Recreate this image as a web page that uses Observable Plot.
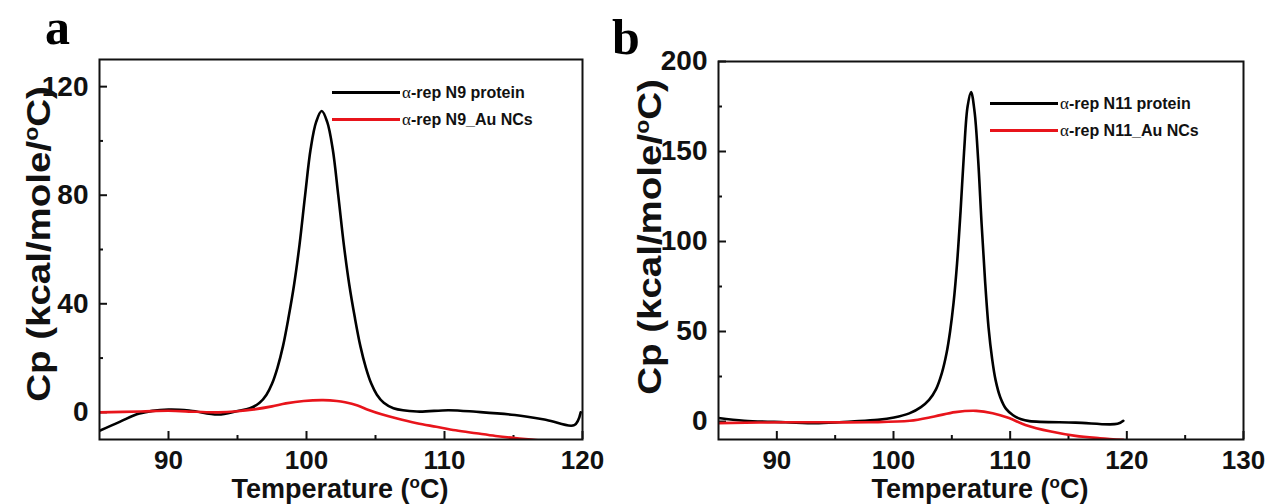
<!DOCTYPE html>
<html><head><meta charset="utf-8">
<script src="https://cdn.jsdelivr.net/npm/d3@7"></script>
<script src="https://cdn.jsdelivr.net/npm/@observablehq/plot@0.6"></script>
<style>
body{margin:0;background:#fff;}
#wrap{position:relative;width:1268px;height:504px;overflow:hidden;background:#fff;}
.panel{position:absolute;top:0;}
.letter{position:absolute;font-family:"Liberation Serif","Times New Roman",serif;font-weight:bold;font-size:50px;line-height:1.1;}
.legend{position:absolute;font-family:"Liberation Sans",Arial,sans-serif;font-weight:bold;font-size:16px;color:#111;}
.legend .row{position:relative;height:27px;display:flex;align-items:center;}
.legend .sw{width:68px;height:3px;margin-right:2px;}
.legend .al{font-family:"Liberation Serif","Times New Roman",serif;font-weight:normal;font-size:17px;}
</style></head><body><div id="wrap"></div>
<script>
// ---- Panel a data (Temperature °C, Cp kcal/mole/°C) ----
const tempA_protein = [85, 86.5, 87.9, 90, 91.6, 93.6, 95, 95.9, 96.6, 97.1, 97.5, 97.9, 98.3, 98.7, 99.1, 99.5, 99.9, 100.3, 100.7, 101.1, 101.5, 101.9, 102.3, 102.7, 103.1, 103.5, 103.9, 104.3, 104.7, 105.1, 105.6, 106.3, 108, 110.3, 112.3, 115.1, 117.4, 119.4, 119.87];
const cpA_protein   = [-6.8, -3.4, -0.4, 1.0, 0.6, -0.8, 0.5, 1.5, 3.5, 6.5, 10.5, 16.5, 24.5, 35, 47, 62, 80, 97, 107, 111, 107, 97, 80, 62, 47, 35, 24.5, 16.5, 10.5, 6.5, 3.5, 1.5, 0.3, 0.8, 0.2, -1, -2.8, -4.7, 0];
const tempA_au = [85, 88, 90, 92, 93.6, 95, 96.2, 97.5, 98.5, 99.8, 101.2, 102.2, 102.8, 103.7, 104.5, 105.5, 106.5, 108, 109.4, 110.8, 112.3, 113.7, 115.1, 116.6, 118];
const cpA_au   = [0, 0.3, 0.6, 0.2, 0, 0.4, 1.1, 2.2, 3.3, 4.2, 4.5, 4.2, 3.7, 2.5, 0.9, -0.8, -2.2, -4, -5.3, -6.6, -7.7, -8.7, -9.5, -10.2, -11];

// ---- Panel b data ----
const tempB_protein = [85, 87.2, 90.75, 93.6, 96.4, 98.65, 100.05, 101.35, 102.35, 103.05, 103.65, 104.15, 104.55, 104.85, 105.15, 105.45, 105.75, 106.05, 106.35, 106.65, 106.95, 107.25, 107.55, 107.85, 108.15, 108.45, 108.75, 109.15, 109.65, 110.25, 110.95, 111.65, 115.6, 119.2, 119.7];
const cpB_protein   = [1.9, 0.4, -0.4, -0.9, 0, 0.9, 2.2, 4.5, 8, 12, 18, 27, 38, 50, 66, 88, 117, 150, 175, 183, 172, 146, 110, 78, 52, 35, 23, 13.5, 7, 3.5, 1.2, 0.2, -0.6, -1.3, 0.4];
const tempB_au = [85, 90.75, 97.9, 101.4, 103.5, 105.3, 107.1, 108.5, 109.9, 111.3, 113.5, 115.6, 117.7, 119.7];
const cpB_au   = [-0.9, -0.4, -0.4, 0.4, 2.8, 5.2, 5.9, 4.6, 1.9, -1.9, -5.6, -8, -9.3, -10.2];

// ---- ticks ----
const xTicksA = [90, 100, 110, 120];
const xMinorA = [95, 105, 115];
const yTicksA = [0, 40, 80, 120];
const yMinorA = [20, 60, 100];
const xTicksB = [90, 100, 110, 120, 130];
const xMinorB = [95, 105, 115, 125];
const yTicksB = [0, 50, 100, 150, 200];
const yMinorB = [25, 75, 125, 175];

// ---- labels ----
const legendA = ["-rep N9 protein", "-rep N9_Au NCs"];
const legendB = ["-rep N11 protein", "-rep N11_Au NCs"];
const colors = ["#000000", "#e8141b"];

const toRows = (ts, vs) => ts.map((t, i) => ({t, cp: vs[i]}));

function makePanel(cfg) {
  const svg = Plot.plot({
    width: cfg.width, height: 504,
    marginLeft: cfg.ml, marginRight: cfg.mr, marginTop: cfg.mt, marginBottom: 504 - 439,
    x: {domain: cfg.xDomain},
    y: {domain: cfg.yDomain},
    style: {fontFamily: "'Liberation Sans', Arial, sans-serif", fontSize: "28px", fontWeight: "bold", background: "transparent", color: "#111"},
    marks: [
      Plot.axisX(cfg.xTicks, {tickSize: -8, tickPadding: 19, fontSize: 26, label: null, strokeWidth: 2}),
      Plot.axisX(cfg.xMinor, {tickSize: -4, tickFormat: () => "", label: null, strokeWidth: 2}),
      Plot.axisY(cfg.yTicks, {tickSize: -8, tickPadding: 19, label: null, strokeWidth: 2}),
      Plot.axisY(cfg.yMinor, {tickSize: -4, tickFormat: () => "", label: null, strokeWidth: 2}),
      Plot.line(cfg.protein, {x: "t", y: "cp", stroke: colors[0], strokeWidth: 2.6, curve: "catmull-rom", clip: true}),
      Plot.line(cfg.au, {x: "t", y: "cp", stroke: colors[1], strokeWidth: 2.6, curve: "catmull-rom", clip: true}),
      Plot.frame({stroke: "#111", strokeWidth: 2})
    ]
  });
  const s = d3.select(svg);
  // y-axis title
  const yt = s.append("text")
    .attr("transform", `translate(${cfg.ytX},${cfg.ytY}) rotate(-90) scale(1,0.85)`)
    .attr("text-anchor", "middle").attr("font-size", 38.5).attr("fill", "#111");
  yt.append("tspan").text("Cp (kcal/mole/");
  yt.append("tspan").attr("dy", -14).attr("font-size", 23).text("o");
  yt.append("tspan").attr("dy", 14).text("C)");
  // x-axis title
  const xt = s.append("text")
    .attr("x", cfg.xtX).attr("y", 498)
    .attr("text-anchor", "middle").attr("font-size", 27).attr("fill", "#111");
  xt.append("tspan").text("Temperature (");
  xt.append("tspan").attr("dy", -10).attr("font-size", 17).text("o");
  xt.append("tspan").attr("dy", 10).text("C)");
  svg.classList.add("panel");
  svg.style.left = cfg.left + "px";
  return svg;
}

function makeLegend(labels, left, top) {
  const div = document.createElement("div");
  div.className = "legend";
  div.style.left = left + "px";
  div.style.top = top + "px";
  labels.forEach((lab, i) => {
    const row = document.createElement("div");
    row.className = "row";
    const sw = document.createElement("div");
    sw.className = "sw"; sw.style.background = colors[i];
    const txt = document.createElement("span");
    const a = document.createElement("span"); a.className = "al"; a.textContent = "α";
    txt.appendChild(a); txt.appendChild(document.createTextNode(lab));
    row.appendChild(sw); row.appendChild(txt);
    div.appendChild(row);
  });
  return div;
}

const wrap = document.getElementById("wrap");
wrap.appendChild(makePanel({
  left: 0, width: 620, ml: 99, mr: 620 - 582, mt: 59,
  xDomain: [85, 120], yDomain: [-10, 130],
  xTicks: xTicksA, xMinor: xMinorA, yTicks: yTicksA, yMinor: yMinorA,
  protein: toRows(tempA_protein, cpA_protein), au: toRows(tempA_au, cpA_au),
  ytX: 50, ytY: 244, xtX: 340
}));
wrap.appendChild(makePanel({
  left: 620, width: 648, ml: 98, mr: 648 - 623, mt: 61,
  xDomain: [85, 130], yDomain: [-10, 200],
  xTicks: xTicksB, xMinor: xMinorB, yTicks: yTicksB, yMinor: yMinorB,
  protein: toRows(tempB_protein, cpB_protein), au: toRows(tempB_au, cpB_au),
  ytX: 41, ytY: 237, xtX: 360
}));
wrap.appendChild(makeLegend(legendA, 332, 79));
wrap.appendChild(makeLegend(legendB, 990, 90));

const la = document.createElement("div"); la.className = "letter"; la.textContent = "a";
la.style.left = "45px"; la.style.top = "0px"; wrap.appendChild(la);
const lb = document.createElement("div"); lb.className = "letter"; lb.textContent = "b";
lb.style.left = "612px"; lb.style.top = "10px"; wrap.appendChild(lb);
</script>
</body></html>
